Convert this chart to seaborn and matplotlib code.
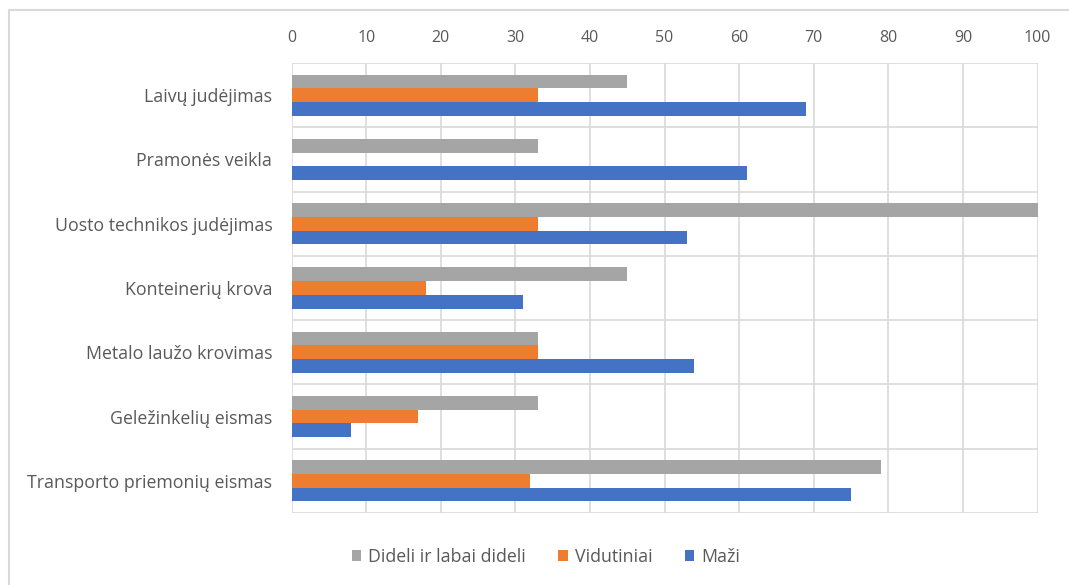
import numpy as np
import pandas as pd
import matplotlib
matplotlib.use("Agg")
import matplotlib.pyplot as plt
import seaborn as sns
from matplotlib.patches import Rectangle

# Data
categories = ["Laivų judėjimas", "Pramonės veikla", "Uosto technikos judėjimas",
              "Konteinerių krova", "Metalo laužo krovimas", "Geležinkelių eismas",
              "Transporto priemonių eismas"]
series = ["Dideli ir labai dideli", "Vidutiniai", "Maži"]
dideli = [45, 33, 100, 45, 33, 33, 79]
vidutiniai = [33, 0, 33, 18, 33, 17, 32]
mazi = [69, 61, 53, 31, 54, 8, 75]
x_ticks = [0, 10, 20, 30, 40, 50, 60, 70, 80, 90, 100]

colors = ["#A5A5A5", "#ED7D31", "#4472C4"]
text_color = "#595959"
grid_color = "#D9D9D9"

df = pd.DataFrame({
    "category": categories * 3,
    "series": [series[0]] * 7 + [series[1]] * 7 + [series[2]] * 7,
    "value": dideli + vidutiniai + mazi,
})

sns.set_theme(style="white")
plt.rcParams['font.family'] = ['Open Sans', 'DejaVu Sans']

fig = plt.figure(figsize=(10.69, 5.85), dpi=100)
ax = fig.add_axes([291.7 / 1069, 1 - 513 / 585, (1037.5 - 291.7) / 1069, (513 - 63) / 585])

sns.barplot(data=df, y="category", x="value", hue="series", order=categories,
            hue_order=series, palette=colors, orient="h", width=0.64,
            saturation=1, linewidth=0, ax=ax, legend=True)

ax.set_xlim(0, 100)
ax.set_ylim(6.5, -0.5)
ax.xaxis.tick_top()
ax.set_xticks(x_ticks)
ax.set_xlabel("")
ax.set_ylabel("")
ax.tick_params(axis="x", length=0, pad=12, labelsize=11.5, labelcolor=text_color)
ax.tick_params(axis="y", which="major", length=0, pad=14, labelsize=12.8, labelcolor=text_color)

# category separators
ax.set_yticks(np.arange(-0.5, 7, 1), minor=True)
ax.tick_params(axis="y", which="minor", length=8, color=grid_color, width=1.2)
ax.grid(True, axis="x", color=grid_color, linewidth=1.2)
ax.grid(True, axis="y", which="minor", color=grid_color, linewidth=1.2)
ax.grid(False, axis="y", which="major")
ax.set_axisbelow(True)
for s in ax.spines.values():
    s.set_visible(False)

handles, labels = ax.get_legend_handles_labels()
ax.get_legend().remove()
fig.legend(handles, labels, loc="center", bbox_to_anchor=(546 / 1069, 1 - 557 / 585),
           ncol=3, frameon=False, fontsize=12.8, labelcolor=text_color,
           handlelength=0.55, handleheight=0.55, handletextpad=0.4, columnspacing=1.8)

fig.patches.append(Rectangle((9 / 1069, -0.05), 1.2, 1 - 10 / 585 + 0.05,
                             transform=fig.transFigure, fill=False,
                             edgecolor=grid_color, linewidth=1.5))

fig.savefig("out.png", dpi=100)
